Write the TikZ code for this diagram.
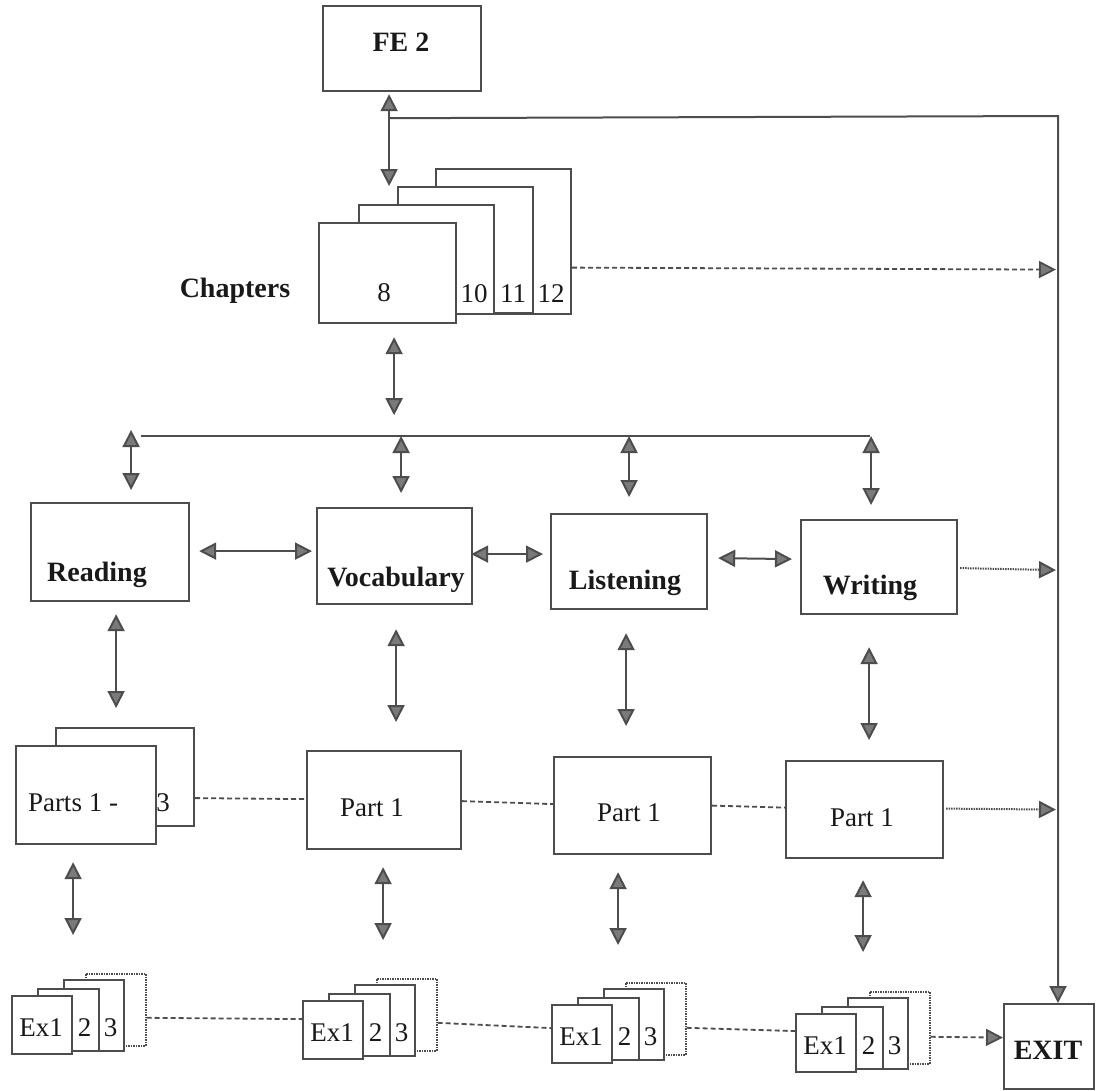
\documentclass[tikz,border=0pt]{standalone}
\usepackage{fontspec}
\setmainfont{Liberation Serif}
\usetikzlibrary{arrows.meta,calc}
\definecolor{linec}{HTML}{4d4d4d}
\definecolor{headc}{HTML}{7a7a7a}
\tikzset{
  gtri/.tip={Triangle[length=17pt,width=17pt,fill=headc]},
  box/.style={draw=linec, line width=2.2pt, fill=white, inner sep=0pt, anchor=north west},
  dbox/.style={dash pattern=on 1.5pt off 1pt, line width=1.6pt},
  txt/.style={inner sep=0pt, text=black!90, font=\fontsize{27}{31}\selectfont},
  btxt/.style={inner sep=0pt, text=black!90, font=\fontsize{28}{32}\selectfont\bfseries},
  conn/.style={draw=linec, line width=2pt},
  both/.style={conn, gtri-gtri},
  one/.style={conn, -gtri},
  dashc/.style={conn, line width=1.8pt, dash pattern=on 5pt off 3pt},
  dotc/.style={conn, line width=2pt, dash pattern=on 1.5pt off 1pt},
}
\newcommand{\mybox}[6]{\node[box,#6,minimum width={((#4)-(#2))*1pt},minimum height={((#5)-(#3))*1pt}] (#1) at (#2,#3) {};}
\newcommand{\exstack}[3]{%
  \mybox{#14}{#2+74}{#3-22}{#2+134}{#3+50}{dbox}
  \mybox{#13}{#2+52}{#3-16}{#2+112}{#3+55}{}
  \mybox{#12}{#2+26}{#3-7}{#2+87}{#3+55}{}
  \mybox{#11}{#2}{#3}{#2+60}{#3+58}{}
  \node[txt] (#1t1) at (#2+30,#3+33) {Ex1};
  \node[txt] (#1t2) at (#2+73.5,#3+33) {2};
  \node[txt] (#1t3) at (#2+99.5,#3+33) {3};
}
\begin{document}
\begin{tikzpicture}[x=1pt,y=-1pt]
\useasboundingbox[fill=white] (0,0) rectangle (1098,1090);

% FE2
\mybox{fe2}{322}{5}{480}{90}{}
\node[btxt] (tfe2) at (401,42) {FE 2};

% Chapters stack
\mybox{c4}{435}{168}{570}{313}{}
\mybox{c3}{397}{186}{532}{312}{}
\mybox{c2}{358}{204}{493}{313}{}
\mybox{c1}{318}{222}{455}{322}{}
\node[btxt] (tchap) at (235,291) {Chapters};
\node[txt] (t8) at (384,293) {8};
\node[txt] (t10) at (474,294) {10};
\node[txt] (t11) at (513,294) {11};
\node[txt] (t12) at (551,294) {12};

% Skill boxes
\mybox{read}{30}{502}{188}{600}{}
\mybox{voc}{316}{507}{471}{603}{}
\mybox{lis}{550}{513}{706}{608}{}
\mybox{wri}{800}{519}{956}{613}{}
\node[btxt] (tread) at (97,575) {Reading};
\node[btxt] (tvoc) at (396,580) {Vocabulary};
\node[btxt] (tlis) at (625,583) {Listening};
\node[btxt] (twri) at (870,588) {Writing};

% Parts row
\mybox{pb}{55}{727}{193}{825}{}
\mybox{pf}{15}{745}{155}{843}{}
\node[txt] (tparts) at (73,803) {Parts 1 -};
\node[txt] (tp3) at (163,803) {3};
\mybox{vp}{306}{750}{460}{848}{}
\mybox{lp}{553}{756}{710}{853}{}
\mybox{wp}{785}{760}{942}{857}{}
\node[txt] (tvp) at (372,808) {Part 1};
\node[txt] (tlp) at (629,813) {Part 1};
\node[txt] (twp) at (862,818) {Part 1};

% Exercise stacks
\exstack{r}{11}{995}
\exstack{v}{302}{1000}
\exstack{l}{551}{1004}
\exstack{w}{795}{1013}

% EXIT
\mybox{exit}{1003}{1003}{1093}{1088}{}
\node[btxt] (texit) at (1048,1050) {EXIT};

% Coordinates
\coordinate (busR) at (1058,116);
\coordinate (busL) at (141,436);
\coordinate (busE) at (870,436);

% FE2 <-> chapters
\draw[both] ($(fe2.south)+(-13,2)$) -- ($(c2.north)+(-37.5,-18)$);
% FE2 line to EXIT
\draw[one] ($(fe2.south)+(-13,26)$) -- (busR) -- (busR |- exit.north);
% chapters dashed to exit line
\draw[dashc,-gtri] ($(c4.east)+(0,26)$) -- ($(busR |- c4.east)+(-2,28)$);
% chapters <-> bus
\draw[both] ($(c1.south)+(6.5,13)$) -- ($(c1.south)+(6.5,91)$);
% bus
\draw[conn] (busL) -- (busE);
\draw[both] ($(read.north)+(21,-72)$) -- ($(read.north)+(21,-12)$);
\draw[both] ($(voc.north)+(6.5,-71)$) -- ($(voc.north)+(6.5,-14)$);
\draw[both] ($(lis.north)+(0,-77)$) -- ($(lis.north)+(0,-16)$);
\draw[both] ($(wri.north)+(-8,-83)$) -- ($(wri.north)+(-8,-14)$);

% horizontal between skills
\draw[both] ($(read.east)+(9,-1)$) -- ($(voc.west)+(-4,-5)$);
\draw[both] ($(voc.east)+(-2,-2)$) -- ($(lis.west)+(-7,-7.5)$);
\draw[both] ($(lis.east)+(10,-3.5)$) -- ($(wri.west)+(-8,-8)$);
\draw[dotc,-gtri] ($(wri.east)+(2,1)$) -- ($(busR |- wri.east)+(-2,3)$);

% skills <-> parts
\draw[both] ($(read.south)+(6,12)$) -- ($(pb.north)+(-9,-19)$);
\draw[both] ($(voc.south)+(1.5,24)$) -- ($(vp.north)+(12,-28)$);
\draw[both] ($(lis.south)+(-3,23)$) -- ($(lp.north)+(-6.5,-30)$);
\draw[both] ($(wri.south)+(-10,32)$) -- ($(wp.north)+(4.5,-20)$);

% parts dashed
\draw[dashc] ($(pb.east)+(0,21)$) -- ($(vp.west)+(0,-1)$);
\draw[dashc] ($(vp.east)+(0,1)$) -- ($(lp.west)+(0,-1.5)$);
\draw[dashc] ($(lp.east)+(0,0)$) -- ($(wp.west)+(0,-2)$);
\draw[dotc,-gtri] ($(wp.east)+(2,-1)$) -- ($(busR |- wp.east)+(-2,0)$);

% parts <-> exercises
\draw[both] ($(pf.south)+(-13,17)$) -- ($(r1.north)+(31,-60)$);
\draw[both] ($(vp.south)+(-1,17)$) -- ($(v1.north)+(50,-60)$);
\draw[both] ($(lp.south)+(-14.5,17)$) -- ($(l1.north)+(36,-59)$);
\draw[both] ($(wp.south)+(-1.5,21)$) -- ($(w1.north)+(37,-61)$);

% exercise dashed
\draw[dashc] ($(r4.east)+(0,8)$) -- ($(v1.west)+(0,-11)$);
\draw[dashc] ($(v4.east)+(0,8)$) -- ($(l1.west)+(0,-6)$);
\draw[dashc] ($(l4.east)+(0,9)$) -- ($(w1.west)+(0,-12)$);
\draw[dashc,-gtri] ($(w4.east)+(0,9)$) -- ($(exit.west)+(0,-9)$);
\end{tikzpicture}
\end{document}
